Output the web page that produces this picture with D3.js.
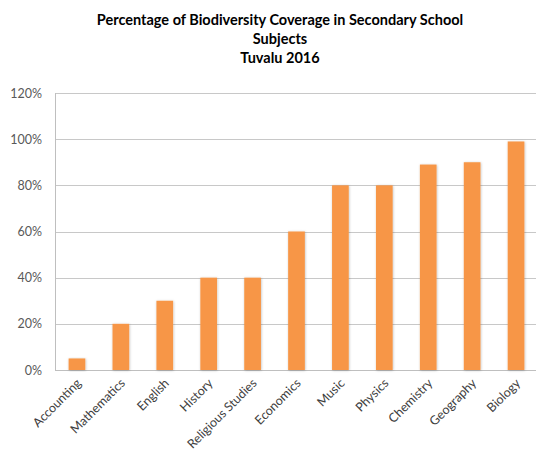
<!DOCTYPE html>
<html>
<head>
<meta charset="utf-8">
<script src="https://cdn.jsdelivr.net/npm/d3@7"></script>
<style>
  html, body { margin: 0; padding: 0; background: #fff; }
  svg { display: block; }
</style>
</head>
<body>
<svg id="chart" width="536" height="454"></svg>
<script>
// Share of biodiversity content per secondary-school subject
const subjects = ["Accounting", "Mathematics", "English", "History", "Religious Studies",
  "Economics", "Music", "Physics", "Chemistry", "Geography", "Biology"];
const coverage = [5, 20, 30, 40, 40, 60, 80, 80, 89, 90, 99];
const yTicks = [0, 20, 40, 60, 80, 100, 120];
const titleLines = ["Percentage of Biodiversity Coverage in Secondary School", "Subjects", "Tuvalu 2016"];

const svg = d3.select("#chart");
const margin = { left: 55, right: -2, top: 93, bottom: 84 };
const W = 536, H = 454;

const x = d3.scaleBand()
  .domain(subjects)
  .range([margin.left, W - margin.right])
  .paddingInner(0.62)
  .paddingOuter(0.31);

const y = d3.scaleLinear()
  .domain([0, 120])
  .range([H - margin.bottom, margin.top]);

// soft shadow around the bars
const defs = svg.append("defs");
const f = defs.append("filter").attr("id", "shadow")
  .attr("x", "-40%").attr("y", "-10%").attr("width", "180%").attr("height", "120%");
f.append("feDropShadow").attr("dx", 0.5).attr("dy", 0.5)
  .attr("stdDeviation", 1).attr("flood-color", "#000").attr("flood-opacity", 0.25);

// title
svg.append("g")
  .selectAll("text")
  .data(titleLines)
  .join("text")
  .attr("x", 280)
  .attr("y", (d, i) => 25 + i * 19)
  .attr("text-anchor", "middle")
  .attr("font-family", "Lato, 'Open Sans', sans-serif")
  .attr("font-weight", "bold")
  .attr("font-size", 14.5)
  .attr("fill", "#000")
  .text(d => d);

// gridlines
svg.append("g")
  .selectAll("line")
  .data(yTicks.filter(t => t > 0))
  .join("line")
  .attr("x1", margin.left).attr("x2", W)
  .attr("y1", d => Math.round(y(d)) + 0.5).attr("y2", d => Math.round(y(d)) + 0.5)
  .attr("stroke", "#c8c8c8").attr("stroke-width", 1);

// y axis
const yAxis = d3.axisLeft(y).tickValues(yTicks).tickFormat(d => d + "%").tickSize(0).tickPadding(13);
const gy = svg.append("g").attr("transform", `translate(${margin.left},0)`).call(yAxis);
gy.select(".domain").remove();
gy.selectAll("text")
  .attr("font-family", "Lato, 'Open Sans', sans-serif")
  .attr("font-size", 12.5)
  .attr("fill", "#595959");

// axis lines
svg.append("line")
  .attr("x1", margin.left + 0.5).attr("x2", margin.left + 0.5)
  .attr("y1", y(120)).attr("y2", y(0))
  .attr("stroke", "#bfbfbf");
svg.append("line")
  .attr("x1", margin.left).attr("x2", W)
  .attr("y1", Math.round(y(0)) + 0.5).attr("y2", Math.round(y(0)) + 0.5)
  .attr("stroke", "#bfbfbf");

// bars
svg.append("g")
  .selectAll("rect")
  .data(subjects.map((s, i) => ({ s, v: coverage[i] })))
  .join("rect")
  .attr("x", d => x(d.s))
  .attr("width", x.bandwidth())
  .attr("y", d => y(d.v))
  .attr("height", d => y(0) - y(d.v))
  .attr("fill", "#F79646")
  .attr("filter", "url(#shadow)");

// x axis labels
const xAxis = d3.axisBottom(x).tickSize(0).tickPadding(0);
const gx = svg.append("g").attr("transform", `translate(0,${y(0)})`).call(xAxis);
gx.select(".domain").remove();
gx.selectAll("text")
  .attr("font-family", "Lato, 'Open Sans', sans-serif")
  .attr("font-size", 12.5)
  .attr("fill", "#404040")
  .attr("text-anchor", "end")
  .attr("dy", 0)
  .attr("transform", "translate(5,14) rotate(-45)");
</script>
</body>
</html>
